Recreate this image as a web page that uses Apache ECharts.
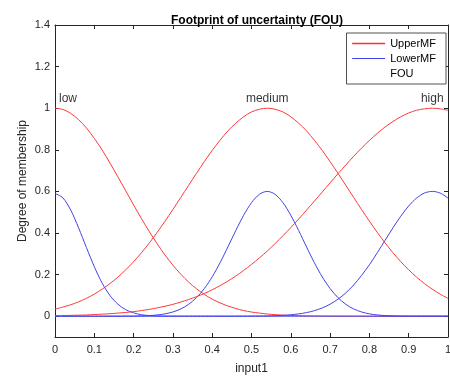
<!DOCTYPE html>
<html>
<head>
<meta charset="utf-8">
<script src="https://cdn.jsdelivr.net/npm/echarts@6/dist/echarts.min.js"></script>
<style>
  html, body { margin: 0; padding: 0; background: #fff; }
  #chart { width: 450px; height: 377px; }
</style>
</head>
<body>
<div id="chart"></div>
<script>
// Sample positions along input1
const xs = [0,0.02,0.04,0.06,0.08,0.1,0.12,0.14,0.16,0.18,0.2,0.22,0.24,0.26,0.28,0.3,0.32,0.34,0.36,0.38,0.4,0.42,0.44,0.46,0.48,0.5,0.52,0.54,0.56,0.58,0.6,0.62,0.64,0.66,0.68,0.7,0.72,0.74,0.76,0.78,0.8,0.82,0.84,0.86,0.88,0.9,0.92,0.94,0.96,0.98,1];

// Upper membership functions
const upperLow = [1,0.994,0.975,0.945,0.905,0.855,0.799,0.736,0.670,0.603,0.535,0.469,0.407,0.348,0.294,0.245,0.202,0.164,0.132,0.105,0.082,0.064,0.049,0.037,0.027,0.020,0.015,0.0105,0.0074,0.0052,0.0036,0.0025,0.0017,0.0011,0.0007,0.0005,0.0003,0.0002,0.0001,0,0,0,0,0,0,0,0,0,0,0,0];
const upperMedium = [0.034,0.044,0.055,0.069,0.086,0.106,0.130,0.157,0.188,0.223,0.262,0.305,0.352,0.403,0.457,0.513,0.571,0.629,0.687,0.743,0.797,0.846,0.891,0.928,0.959,0.982,0.995,1,0.995,0.982,0.959,0.928,0.891,0.846,0.797,0.743,0.687,0.629,0.571,0.513,0.457,0.403,0.352,0.305,0.262,0.223,0.188,0.157,0.130,0.106,0.086];
const upperHigh = [0.002,0.003,0.004,0.005,0.006,0.008,0.010,0.012,0.015,0.018,0.022,0.027,0.033,0.040,0.048,0.057,0.068,0.080,0.094,0.109,0.127,0.147,0.169,0.193,0.220,0.249,0.280,0.313,0.349,0.387,0.426,0.467,0.510,0.553,0.597,0.641,0.685,0.727,0.769,0.808,0.845,0.879,0.910,0.936,0.959,0.977,0.990,0.997,1,0.997,0.990];

// Lower membership functions
const lowerLow = [0.59,0.569,0.510,0.425,0.330,0.238,0.159,0.099,0.058,0.031,0.016,0.007,0.003,0.001,0.0005,0.0002,0,0,0,0,0,0,0,0,0,0,0,0,0,0,0,0,0,0,0,0,0,0,0,0,0,0,0,0,0,0,0,0,0,0,0];
const lowerMedium = [0,0,0,0,0,0,0,0,0.0001,0.0003,0.0007,0.0015,0.003,0.006,0.0113,0.0203,0.0348,0.0571,0.0892,0.133,0.189,0.257,0.333,0.412,0.485,0.546,0.586,0.6,0.586,0.546,0.485,0.412,0.333,0.257,0.189,0.133,0.0892,0.0571,0.0348,0.0203,0.0113,0.006,0.003,0.0015,0.0007,0.0003,0.0001,0,0,0,0];
const lowerHigh = [0,0,0,0,0,0,0,0,0,0,0,0,0,0,0,0,0,0,0,0,0,0,0,0.0001,0.0002,0.0004,0.0007,0.0013,0.0024,0.0041,0.0068,0.011,0.0173,0.0266,0.0398,0.0578,0.0818,0.112,0.150,0.196,0.247,0.305,0.365,0.425,0.481,0.530,0.568,0.592,0.6,0.592,0.568];

// Membership function names and where their labels sit
const mfNames = ['low', 'medium', 'high'];
const mfLabelX = [0, 0.54, 0.96];
const mfLabelY = 1.045;

// Tick positions and labels
const xTicks = [0,0.1,0.2,0.3,0.4,0.5,0.6,0.7,0.8,0.9,1];
const xTickLabels = ['0','0.1','0.2','0.3','0.4','0.5','0.6','0.7','0.8','0.9','1'];
const yTicks = [0,0.2,0.4,0.6,0.8,1,1.2,1.4];
const yTickLabels = ['0','0.2','0.4','0.6','0.8','1','1.2','1.4'];

const AX = '#262626';
const FONT = 'Liberation Sans, Arial, Helvetica, sans-serif';
const RED = 'rgb(255,55,55)';
const BLUE = 'rgb(65,65,235)';
const NONE = 'rgba(0,0,0,0)';

function pairs(ys) { return xs.map((x, i) => [x, ys[i]]); }
function tickLabel(ticks, labels) {
  return v => {
    let best = 0;
    for (let i = 1; i < ticks.length; i++) {
      if (Math.abs(ticks[i] - v) < Math.abs(ticks[best] - v)) best = i;
    }
    return labels[best];
  };
}

function mfLine(name, ys, color) {
  return {
    name: name, type: 'line', data: pairs(ys),
    xAxisIndex: 0, yAxisIndex: 0,
    symbol: 'none', smooth: 0.3,
    color: color,
    lineStyle: { color: color, width: 1 },
    itemStyle: { color: color },
    emphasis: { disabled: true },
    silent: true, animation: false
  };
}

const chart = echarts.init(document.getElementById('chart'), null, { renderer: 'canvas' });

const baseAxisLine = { show: true, onZero: false, lineStyle: { color: AX, width: 1 } };
const hiddenMarker = { color: NONE, borderColor: NONE, opacity: 0 };

chart.setOption({
  animation: false,
  textStyle: { fontFamily: FONT },
  title: {
    text: 'Footprint of uncertainty (FOU)',
    left: 166, top: 10,
    textStyle: { fontSize: 12, fontWeight: 'bold', color: '#000', fontFamily: FONT }
  },
  legend: {
    orient: 'vertical', right: 4, top: 33,
    data: [
      { name: 'UpperMF', lineStyle: { color: '#ff3030', width: 1.3, opacity: 1, type: 'solid' }, itemStyle: hiddenMarker },
      { name: 'LowerMF', lineStyle: { color: BLUE, width: 1, opacity: 1, type: 'solid' }, itemStyle: hiddenMarker },
      { name: 'FOU', lineStyle: { color: NONE, width: 0 }, itemStyle: hiddenMarker }
    ],
    itemWidth: 33, itemHeight: 10, itemGap: 4,
    padding: [5, 10, 5, 5],
    borderColor: AX, borderWidth: 0.8, backgroundColor: '#fff',
    selectedMode: false,
    textStyle: { fontSize: 11, color: '#000', fontFamily: FONT }
  },
  grid: { left: 55, right: 2, top: 25, bottom: 40, containLabel: false, outerBoundsMode: 'none' },
  xAxis: [
    {
      type: 'value', min: 0, max: 1, position: 'bottom',
      axisLine: baseAxisLine,
      axisTick: { show: true, inside: true, length: 4, customValues: xTicks, lineStyle: { color: AX } },
      axisLabel: { show: true, customValues: xTicks, formatter: tickLabel(xTicks, xTickLabels), fontSize: 11, color: AX, margin: 7, fontFamily: FONT },
      splitLine: { show: false },
      name: 'input1', nameLocation: 'middle', nameGap: 26,
      nameTextStyle: { fontSize: 12, color: AX, fontFamily: FONT }
    },
    {
      type: 'value', min: 0, max: 1, position: 'top',
      axisLine: baseAxisLine,
      axisTick: { show: true, inside: true, length: 4, customValues: xTicks, lineStyle: { color: AX } },
      axisLabel: { show: false },
      splitLine: { show: false }
    }
  ],
  yAxis: [
    {
      type: 'value', min: -0.1, max: 1.4, position: 'left',
      axisLine: baseAxisLine,
      axisTick: { show: true, inside: true, length: 4, customValues: yTicks, lineStyle: { color: AX } },
      axisLabel: { show: true, customValues: yTicks, formatter: tickLabel(yTicks, yTickLabels), fontSize: 11, color: AX, margin: 5, fontFamily: FONT },
      splitLine: { show: false },
      name: 'Degree of membership', nameLocation: 'middle', nameGap: 26, nameMoveOverlap: false,
      nameTextStyle: { fontSize: 12, color: AX, fontFamily: FONT }
    },
    {
      type: 'value', min: -0.1, max: 1.4, position: 'right',
      axisLine: baseAxisLine,
      axisTick: { show: true, inside: true, length: 4, customValues: yTicks, lineStyle: { color: AX } },
      axisLabel: { show: false },
      splitLine: { show: false }
    }
  ],
  series: [
    mfLine('UpperMF', upperLow, RED),
    mfLine('LowerMF', lowerLow, BLUE),
    mfLine('UpperMF', upperMedium, RED),
    mfLine('LowerMF', lowerMedium, BLUE),
    mfLine('UpperMF', upperHigh, RED),
    mfLine('LowerMF', lowerHigh, BLUE),
    {
      name: 'FOU', type: 'line', data: [],
      symbol: 'none',
      lineStyle: { color: NONE }, itemStyle: { color: NONE }
    },
    {
      type: 'scatter', silent: true,
      symbolSize: 1, itemStyle: { color: NONE },
      data: mfNames.map((n, i) => ({
        value: [mfLabelX[i], mfLabelY, n],
        label: i === 0 ? { align: 'left', offset: [4, 0] } : { align: 'center' }
      })),
      label: {
        show: true, position: 'inside', formatter: p => p.value[2],
        color: '#000', fontSize: 12, fontFamily: FONT, verticalAlign: 'middle'
      }
    }
  ]
});
</script>
</body>
</html>
